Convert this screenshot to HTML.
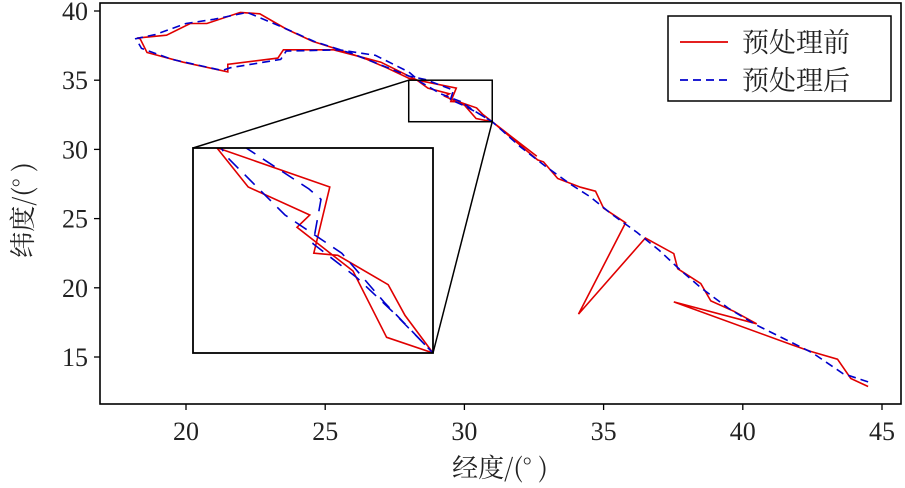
<!DOCTYPE html>
<html><head><meta charset="utf-8"><style>
html,body{margin:0;padding:0;background:#fff;width:905px;height:488px;overflow:hidden;}
svg{display:block;font-family:"Liberation Serif","Noto Serif CJK SC",serif;overflow:hidden;}
</style></head><body>
<svg id="chart" width="905" height="488" viewBox="0 0 905 488" xmlns="http://www.w3.org/2000/svg">
<defs>
<clipPath id="plotClip"><rect x="100" y="3" width="801" height="401"/></clipPath>
<clipPath id="insetClip"><rect x="193" y="148" width="240" height="205"/></clipPath>
</defs>
<g id="main" clip-path="url(#plotClip)"></g>
<g id="inset"></g>
<g id="axes"></g>
<g>
<rect x="668" y="16" width="223" height="85" fill="#fff" stroke="#000" stroke-width="1.5"/>
<line x1="680" y1="42" x2="728" y2="42" stroke="#e00000" stroke-width="1.8"/>
<text x="742" y="52" font-size="27" font-family="Noto Serif CJK SC, serif" fill="#222">预处理前</text>
<line x1="680" y1="80" x2="728" y2="80" stroke="#0000cc" stroke-width="1.8" stroke-dasharray="8,5"/>
<text x="742" y="90" font-size="27" font-family="Noto Serif CJK SC, serif" fill="#222">预处理后</text>
</g>
<text x="500" y="477" font-size="26" text-anchor="middle" font-family="Noto Serif CJK SC, serif" fill="#222">经度/(°  )</text>
<text transform="translate(32,210) rotate(-90)" font-size="26" text-anchor="middle" font-family="Noto Serif CJK SC, serif" fill="#222">纬度/(°  )</text>
</svg>
<script>
const rawLon = [44.5,43.88,43.4,42.45,41.73,37.52,40.5,39.68,38.85,38.49,37.66,37.52,36.5,34.1,35.79,35.0,34.71,34.17,33.35,32.84,32.63,31.04,31.0,30.65,30.44,29.81,29.51,29.71,28.31,28.05,27.2,26.5,25.5,24.55,23.6,22.65,21.95,20.75,20.15,19.3,18.24,18.35,18.6,19.9,21.5,21.5,23.3,23.5,25.3,26.25,27.0,28.3,28.69,29.46,29.3,30.0,30.42,31.0,32.6];
const rawLat = [12.87,13.45,14.84,15.4,15.9,18.98,17.4,18.3,19.05,20.3,21.38,22.47,23.6,18.1,24.7,25.75,26.98,27.27,27.9,29.1,29.24,31.93,32.0,32.55,33.0,33.43,33.46,34.43,35.0,35.1,35.9,36.5,37.2,37.8,38.7,39.8,39.9,39.1,39.1,38.25,38.04,38.0,37.0,36.3,35.6,36.15,36.6,37.2,37.2,36.7,36.3,35.0,34.43,34.02,33.84,33.2,32.23,32.0,29.5];
const procLon = [44.5,43.6,42.5,41.5,40.5,39.5,38.5,37.8,37.0,36.2,35.3,34.5,33.8,32.9,32.0,31.0,30.5,30.05,29.5,29.6,29.45,28.6,28.0,27.0,26.0,24.6,23.5,22.2,21.0,20.0,18.9,18.2,18.4,19.5,21.3,21.6,23.4,23.6,25.5,26.8,28.0,28.44,29.15,29.86,30.4,31.0];
const procLat = [13.2,13.8,15.3,16.3,17.3,18.5,20.0,21.2,22.7,24.0,25.3,26.6,27.5,28.8,30.2,32.0,32.6,33.1,33.6,34.25,34.4,35.05,35.3,36.1,36.9,37.8,38.8,39.9,39.4,39.1,38.3,38.0,37.3,36.5,35.7,35.9,36.5,37.1,37.2,36.8,35.6,34.85,34.02,33.46,32.73,32.0];
const xTicks = [20,25,30,35,40,45];
const yTicks = [15,20,25,30,35,40];
const xTickLabels = ["20","25","30","35","40","45"];
const yTickLabels = ["15","20","25","30","35","40"];
const zoomLon = [28,31];
const zoomLat = [32,35];

const NS="http://www.w3.org/2000/svg";
const sx = v => 186 + (v-20)*27.84;
const sy = v => 11 + (40-v)*13.84;
const ix = v => 193 + (v-zoomLon[0])/(zoomLon[1]-zoomLon[0])*240;
const iy = v => 148 + (zoomLat[1]-v)/(zoomLat[1]-zoomLat[0])*205;
function mk(tag, attrs, parent){const e=document.createElementNS(NS,tag);for(const k in attrs)e.setAttribute(k,attrs[k]);parent.appendChild(e);return e;}
function pts(lons,lats,fx,fy){return lons.map((v,i)=>fx(v).toFixed(1)+","+fy(lats[i]).toFixed(1)).join(" ");}

const main=document.getElementById('main');
const r1=mk('polyline',{points:pts(rawLon,rawLat,sx,sy),fill:'none',stroke:'#e00000','stroke-width':1.6},main);


const p1=mk('polyline',{points:pts(procLon,procLat,sx,sy),fill:'none',stroke:'#0000cc','stroke-width':1.6,'stroke-dasharray':'8,5'},main);



const axes=document.getElementById('axes');
const zb=mk('rect',{x:sx(zoomLon[0]),y:sy(zoomLat[1]),width:sx(zoomLon[1])-sx(zoomLon[0]),height:sy(zoomLat[0])-sy(zoomLat[1]),fill:'none',stroke:'#000','stroke-width':1.5},axes);


const c1=mk('line',{x1:sx(zoomLon[0]),y1:sy(zoomLat[1]),x2:193,y2:148,stroke:'#000','stroke-width':1.5},axes);


const c2=mk('line',{x1:sx(zoomLon[1]),y1:sy(zoomLat[0]),x2:433,y2:353,stroke:'#000','stroke-width':1.5},axes);



const inset=document.getElementById('inset');


mk('rect',{x:193,y:148,width:240,height:205,fill:'#fff'},inset);
const ig=mk('g',{'clip-path':'url(#insetClip)'},inset);
const r2=mk('polyline',{points:pts(rawLon,rawLat,ix,iy),fill:'none',stroke:'#e00000','stroke-width':1.6},ig);


const p2=mk('polyline',{points:pts(procLon,procLat,ix,iy),fill:'none',stroke:'#0000cc','stroke-width':1.6,'stroke-dasharray':'14,9'},ig);


mk('rect',{x:193,y:148,width:240,height:205,fill:'none',stroke:'#000','stroke-width':1.8},inset);

const fr=mk('rect',{x:100,y:3,width:801,height:401,fill:'none',stroke:'#000','stroke-width':1.6},axes);


xTicks.forEach((t,i)=>{
  const l=mk('line',{x1:sx(t),y1:404,x2:sx(t),y2:410,stroke:'#000','stroke-width':1.3},axes);
  
  
  const tx=mk('text',{x:sx(t),y:440,'font-size':26,'text-anchor':'middle',fill:'#222'},axes);
  tx.textContent=xTickLabels[i];
  
  
});
yTicks.forEach((t,i)=>{
  const l=mk('line',{x1:94,y1:sy(t),x2:100,y2:sy(t),stroke:'#000','stroke-width':1.3},axes);
  
  
  const tx=mk('text',{x:88,y:sy(t)+9,'font-size':26,'text-anchor':'end',fill:'#222'},axes);
  tx.textContent=yTickLabels[i];
  
  
});
</script>
</body></html>
